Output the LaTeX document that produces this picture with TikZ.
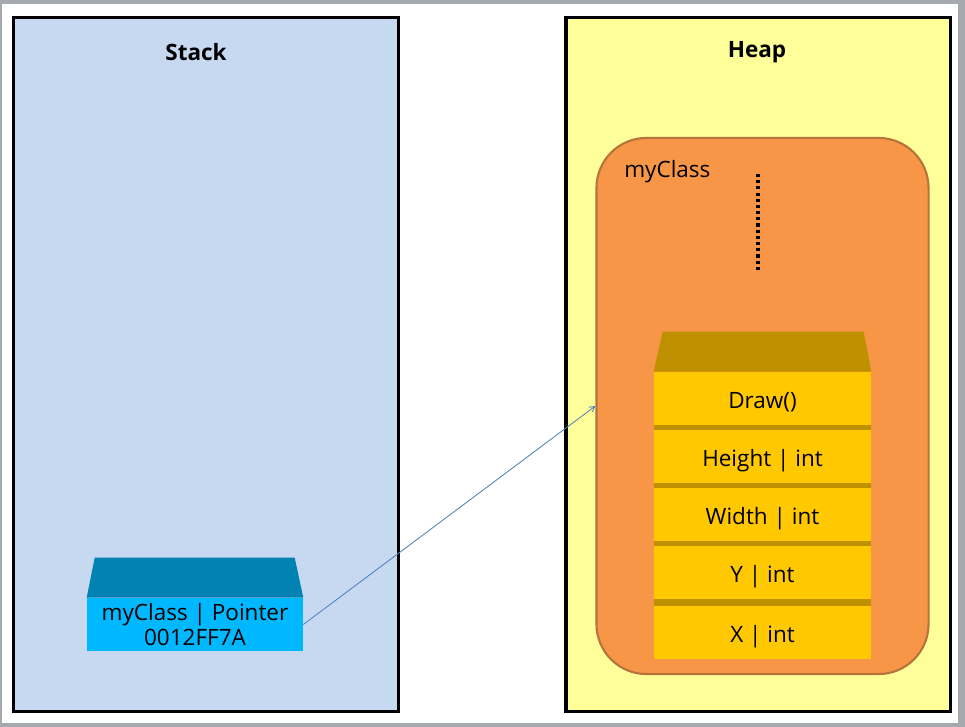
\documentclass[tikz,border=0pt]{standalone}
\usepackage{fontspec}
\setmainfont{Open Sans}
\usetikzlibrary{arrows}

\definecolor{framegray}{HTML}{A6AAAE}
\definecolor{stackblue}{HTML}{C6D9F1}
\definecolor{heapyellow}{HTML}{FFFF99}
\definecolor{objorange}{HTML}{F79646}
\definecolor{objedge}{HTML}{B7733C}
\definecolor{rowgold}{HTML}{FFC800}
\definecolor{stripgold}{HTML}{BF9000}
\definecolor{ptrfront}{HTML}{00B8FF}
\definecolor{ptrtop}{HTML}{0083B2}
\definecolor{arrowblue}{HTML}{4F81BD}

\begin{document}
\begin{tikzpicture}[x=0.025cm,y=-0.025cm,>=angle 60,
	region/.style={draw=black,line width=2.2pt,minimum width=9.6cm,minimum height=17.35cm,inner sep=0pt},
	member/.style={fill=rowgold,minimum width=5.425cm,minimum height=1.325cm,inner sep=0pt,text height=18pt,text depth=4pt,font=\fontsize{16}{20}\selectfont},
	title/.style={font=\fontsize{16}{20}\selectfont\bfseries}]

	\useasboundingbox (0,0) rectangle (965,727);

	%window frame
	\fill[framegray] (0,0) rectangle (965,727);
	\fill[white] (2,4) rectangle (958,723);

	%regions
	\node[region, fill=stackblue] (stack) at (206,364.5) {};
	\node[region, fill=heapyellow] (heap) at (758,364.5) {};
	\node[title] (stacklabel) at (196,52) {Stack};
	\node[title] (heaplabel) at (757,52) {Heap};

	%object on the heap
	\node[draw=objedge, line width=1.5pt, fill=objorange, rounded corners=1.25cm, minimum width=8.3cm, minimum height=13.4cm] (obj) at (762.5,406) {};
	\node[anchor=west, inner sep=0pt, font=\fontsize{16}{20}\selectfont] (objlabel) at (624,172) {myClass};
	\coordinate (dotstop) at (758,174);
	\coordinate (dotsbot) at (758,270);
	\draw[line width=2.4pt, dash pattern=on 2.2pt off 2.2pt] (dotstop) -- (dotsbot);

	%members
	\node[fill=stripgold, minimum width=5.425cm, minimum height=7.175cm, inner sep=0pt] (column) at (762.5,515.5) {};
	\fill[stripgold] (column.north west) -- ++(9,-40) -- ++(201,0) -- (column.north east) -- cycle;
	\node[member] (draw) at (762.5,398.5) {Draw()};
	\node[member] (height) at (762.5,456.5) {Height | int};
	\node[member] (width) at (762.5,514.5) {Width | int};
	\node[member] (y) at (762.5,572.5) {Y | int};
	\node[member] (x) at (762.5,632.5) {X | int};

	%pointer on the stack
	\node[fill=ptrfront, minimum width=5.4cm, minimum height=1.325cm, inner sep=0pt, align=center, font=\fontsize{16}{17.8}\selectfont] (ptr) at (195,624.5) {myClass | Pointer \\ 0012FF7A};
	\fill[ptrtop] (ptr.north west) -- ++(8,-40) -- ++(200,0) -- (ptr.north east) -- cycle;

	%reference
	\draw[->, arrowblue, line width=0.6pt] (ptr.east) -- (obj.west);

\end{tikzpicture}
\end{document}
